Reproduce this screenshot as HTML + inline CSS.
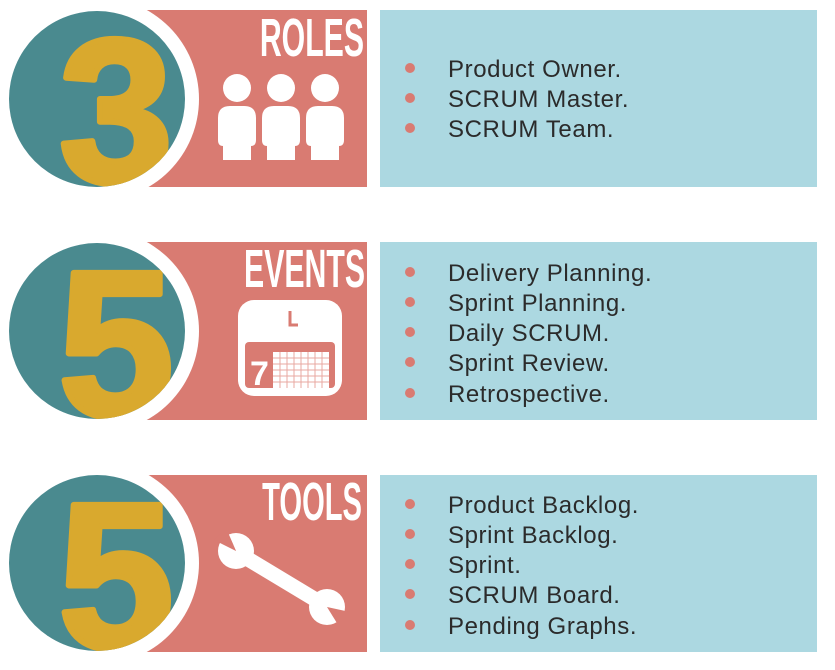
<!DOCTYPE html>
<html><head><meta charset="utf-8"><style>
html,body{margin:0;padding:0;background:#fff;}
svg{display:block}
.t{font-family:"Liberation Sans",sans-serif;font-size:24px;letter-spacing:0.6px;fill:#2b2b2b}
.h{font-family:"Liberation Sans Narrow","Liberation Sans",sans-serif;font-weight:bold;fill:#fff}
.n{font-family:"Liberation Sans",sans-serif;font-weight:bold;fill:#d9a92e;stroke:#d9a92e;stroke-width:6;stroke-linejoin:round}
</style></head><body>
<svg width="835" height="670" viewBox="0 0 835 670" xmlns="http://www.w3.org/2000/svg">
<defs>
<clipPath id="c1"><circle cx="97" cy="99" r="88"/></clipPath>
<clipPath id="c2"><circle cx="97" cy="331" r="88"/></clipPath>
<clipPath id="c3"><circle cx="97" cy="563" r="88"/></clipPath>
</defs>
<rect x="145" y="10" width="222" height="177" fill="#d97b72"/>
<rect x="145" y="242" width="222" height="178" fill="#d97b72"/>
<rect x="145" y="475" width="222" height="177" fill="#d97b72"/>
<rect x="380" y="10" width="437" height="177" fill="#acd8e1"/>
<rect x="380" y="242" width="437" height="178" fill="#acd8e1"/>
<rect x="380" y="475" width="437" height="177" fill="#acd8e1"/>
<circle cx="97" cy="99" r="102" fill="#fff"/>
<circle cx="97" cy="331" r="102" fill="#fff"/>
<circle cx="97" cy="563" r="102" fill="#fff"/>
<circle cx="97" cy="99" r="88" fill="#4a8a8f"/>
<circle cx="97" cy="331" r="88" fill="#4a8a8f"/>
<circle cx="97" cy="563" r="88" fill="#4a8a8f"/>
<g clip-path="url(#c1)"><text class="n" x="116" y="182" font-size="205" text-anchor="middle">3</text></g>
<g clip-path="url(#c2)"><text class="n" x="116" y="416" font-size="208" text-anchor="middle">5</text></g>
<g clip-path="url(#c3)"><text class="n" x="116" y="648" font-size="208" text-anchor="middle">5</text></g>
<g transform="translate(364,56) scale(0.56,1)"><text class="h" x="0" y="0" font-size="54" text-anchor="end">ROLES</text></g>
<g transform="translate(365,287) scale(0.56,1)"><text class="h" x="0" y="0" font-size="54" text-anchor="end">EVENTS</text></g>
<g transform="translate(362,520) scale(0.54,1)"><text class="h" x="0" y="0" font-size="54" text-anchor="end">TOOLS</text></g>
<g fill="#fff">
<circle cx="237" cy="88" r="14"/><circle cx="281" cy="88" r="14"/><circle cx="325" cy="88" r="14"/>
<path d="M218 118 q0-12 12-12 h14 q12 0 12 12 v22 q0 6-5 6 v14 h-28 v-14 q-5 0-5-6z"/>
<path d="M262 118 q0-12 12-12 h14 q12 0 12 12 v22 q0 6-5 6 v14 h-28 v-14 q-5 0-5-6z"/>
<path d="M306 118 q0-12 12-12 h14 q12 0 12 12 v22 q0 6-5 6 v14 h-28 v-14 q-5 0-5-6z"/>
</g>
<rect x="238" y="300" width="104" height="96" rx="16" fill="#fff"/>
<rect x="245" y="342" width="90" height="46" rx="4" fill="#d97b72"/>
<path d="M290 311 v14 h8" stroke="#d97b72" stroke-width="3" fill="none"/>
<text x="250" y="385" font-family="Liberation Sans,sans-serif" font-weight="bold" font-size="34" fill="#fff">7</text>
<rect x="273" y="352" width="56" height="36" fill="#fff"/>
<g stroke="#e8a8a2" stroke-width="1">
<path d="M273 358h56M273 364h56M273 370h56M273 376h56M273 382h56M280 352v36M287 352v36M294 352v36M301 352v36M308 352v36M315 352v36M322 352v36"/>
</g>
<g>
<line x1="238" y1="553" x2="326" y2="606" stroke="#fff" stroke-width="15"/>
<circle cx="236" cy="551" r="18" fill="#fff"/>
<circle cx="327" cy="607" r="18" fill="#fff"/>
<path d="M236 551 L214 540 L226 528z" fill="#d97b72"/>
<path d="M236 551 L226 528 L220 531z" fill="#d97b72"/>
<path d="M327 607 L350 612 L340 628z" fill="#d97b72"/>
</g>
<g fill="#d97b72">
<circle cx="410" cy="68" r="5"/><circle cx="410" cy="98" r="5"/><circle cx="410" cy="128" r="5"/>
<circle cx="410" cy="272" r="5"/><circle cx="410" cy="302" r="5"/><circle cx="410" cy="332" r="5"/><circle cx="410" cy="362" r="5"/><circle cx="410" cy="393" r="5"/>
<circle cx="410" cy="504" r="5"/><circle cx="410" cy="534" r="5"/><circle cx="410" cy="564" r="5"/><circle cx="410" cy="594" r="5"/><circle cx="410" cy="625" r="5"/>
</g>
<text class="t" x="448" y="77">Product Owner.</text>
<text class="t" x="448" y="107">SCRUM Master.</text>
<text class="t" x="448" y="137">SCRUM Team.</text>
<text class="t" x="448" y="281">Delivery Planning.</text>
<text class="t" x="448" y="311">Sprint Planning.</text>
<text class="t" x="448" y="341">Daily SCRUM.</text>
<text class="t" x="448" y="371">Sprint Review.</text>
<text class="t" x="448" y="402">Retrospective.</text>
<text class="t" x="448" y="513">Product Backlog.</text>
<text class="t" x="448" y="543">Sprint Backlog.</text>
<text class="t" x="448" y="573">Sprint.</text>
<text class="t" x="448" y="603">SCRUM Board.</text>
<text class="t" x="448" y="634">Pending Graphs.</text>
</svg>
</body></html>
